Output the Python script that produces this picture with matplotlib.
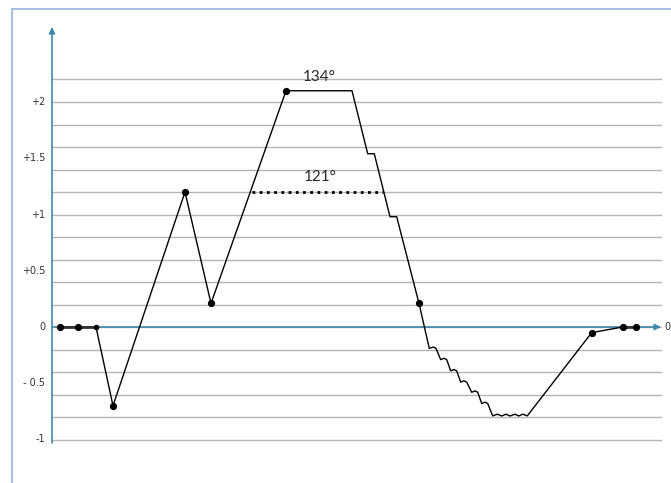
import matplotlib
matplotlib.use("Agg")
import matplotlib.pyplot as plt
from matplotlib.lines import Line2D

# ---- data ----
t = [8, 26, 44, 61, 133, 159, 234, 300, 315.7, 322.3, 338, 344.7, 367,
     377.3, 381.3, 384, 388.7, 392, 394.7, 398.7, 402, 404.7, 408.7, 412, 414.7,
     419.7, 423, 425.7, 429.7, 433, 435.7,
     440.7, 445.3, 449.7, 454, 458, 463, 466.7, 470.7, 475.3,
     539.7, 570.7, 584]
v = [0, 0, 0, -0.70, 1.20, 0.21, 2.10, 2.10, 1.54, 1.54, 0.98, 0.98, 0.21,
     -0.19, -0.178, -0.19, -0.29, -0.278, -0.29, -0.39, -0.378, -0.39, -0.49, -0.478, -0.49,
     -0.58, -0.568, -0.58, -0.68, -0.668, -0.68,
     -0.79, -0.775, -0.791, -0.775, -0.791, -0.775, -0.791, -0.775, -0.79,
     -0.05, 0, 0]
dot_t = [8, 26, 61, 133, 159, 234, 367, 539.7, 570.7, 584]
dot_v = [0, 0, -0.70, 1.20, 0.21, 2.10, 0.21, -0.05, 0, 0]
small_dot_t = [44]
small_dot_v = [0]
flat_start_t = [8, 44]
flat_end_t = [570.7, 584]

grid_levels = [-1.0, -0.8, -0.6, -0.4, -0.2, 0.0, 0.2, 0.4, 0.6, 0.8, 1.0,
               1.2, 1.4, 1.6, 1.8, 2.0, 2.2]
ytick_vals = [2, 1.5, 1, 0.5, 0, -0.5, -1]
ytick_labels = ["+2", "+1.5", "+1", "+0.5", "0", "- 0.5", "-1"]

angle_hi_label = "134°"
angle_hi_pos = (267, 2.22)
angle_lo_label = "121°"
angle_lo_pos = (268, 1.33)
dotted_t = [199.7, 331]
dotted_v = 1.2

# ---- figure ----
W, H = 671, 483
fig = plt.figure(figsize=(W / 100, H / 100), dpi=100)

# frame (top + left border)
fig.add_artist(Line2D([12 / W, 1.01], [1 - 9 / H, 1 - 9 / H], color="#a9c0e6", lw=1.5))
fig.add_artist(Line2D([12 / W, 12 / W], [-0.01, 1 - 9 / H], color="#a9c0e6", lw=1.5))

px_left, px_right = 52, 670
px_top, px_bottom = 25, 445
y0px, scale = 327, 112.5
ax = fig.add_axes([px_left / W, 1 - px_bottom / H, (px_right - px_left) / W, (px_bottom - px_top) / H])
ax.set_xlim(0, px_right - px_left)
ax.set_ylim((y0px - px_bottom) / scale, (y0px - px_top) / scale)
ax.axis("off")

axis_col = "#3f88aa"
# grid
for g in grid_levels:
    ax.plot([0, 609], [g, g], color="#b4b4b4", lw=1.0, zorder=1)

# y axis with arrow
ax.annotate("", xy=(0, (y0px - 27) / scale), xytext=(0, (y0px - 443) / scale),
            arrowprops=dict(arrowstyle="-|>", color=axis_col, lw=1.2, mutation_scale=9,
                            shrinkA=0, shrinkB=0), zorder=2)
# x axis with arrow
ax.annotate("", xy=(609, 0), xytext=(0, 0),
            arrowprops=dict(arrowstyle="-|>", color=axis_col, lw=1.2, mutation_scale=9,
                            shrinkA=0, shrinkB=0), zorder=2)
ax.text(612, 0, "0", fontsize=7, color="#333333", va="center", ha="left", clip_on=False)

for val, lab in zip(ytick_vals, ytick_labels):
    ax.text(-7, val, lab, fontsize=7, color="#333333", va="center", ha="right", clip_on=False)

# data line
ax.plot(t, v, color="black", lw=1.0, zorder=4)
ax.plot(flat_start_t, [0, 0], color="#333333", lw=2.0, zorder=4)
ax.plot(flat_end_t, [0, 0], color="#333333", lw=2.0, zorder=4)
ax.plot(dot_t, dot_v, "o", color="black", ms=4.2, zorder=5)
ax.plot(small_dot_t, small_dot_v, "o", color="black", ms=3, zorder=5)

# dotted angle line
ax.plot(dotted_t, [dotted_v, dotted_v], color="black", lw=2.0, linestyle=(0, (1, 1.6)), zorder=4)

ax.text(*angle_hi_pos, angle_hi_label, fontsize=11, family="Lato", fontweight="normal",
        color="#2a2a2a", ha="center", va="center", zorder=6)
ax.text(*angle_lo_pos, angle_lo_label, fontsize=11, family="Lato", fontweight="normal",
        color="#2a2a2a", ha="center", va="center", zorder=6)

fig.savefig("out.png", dpi=100)
